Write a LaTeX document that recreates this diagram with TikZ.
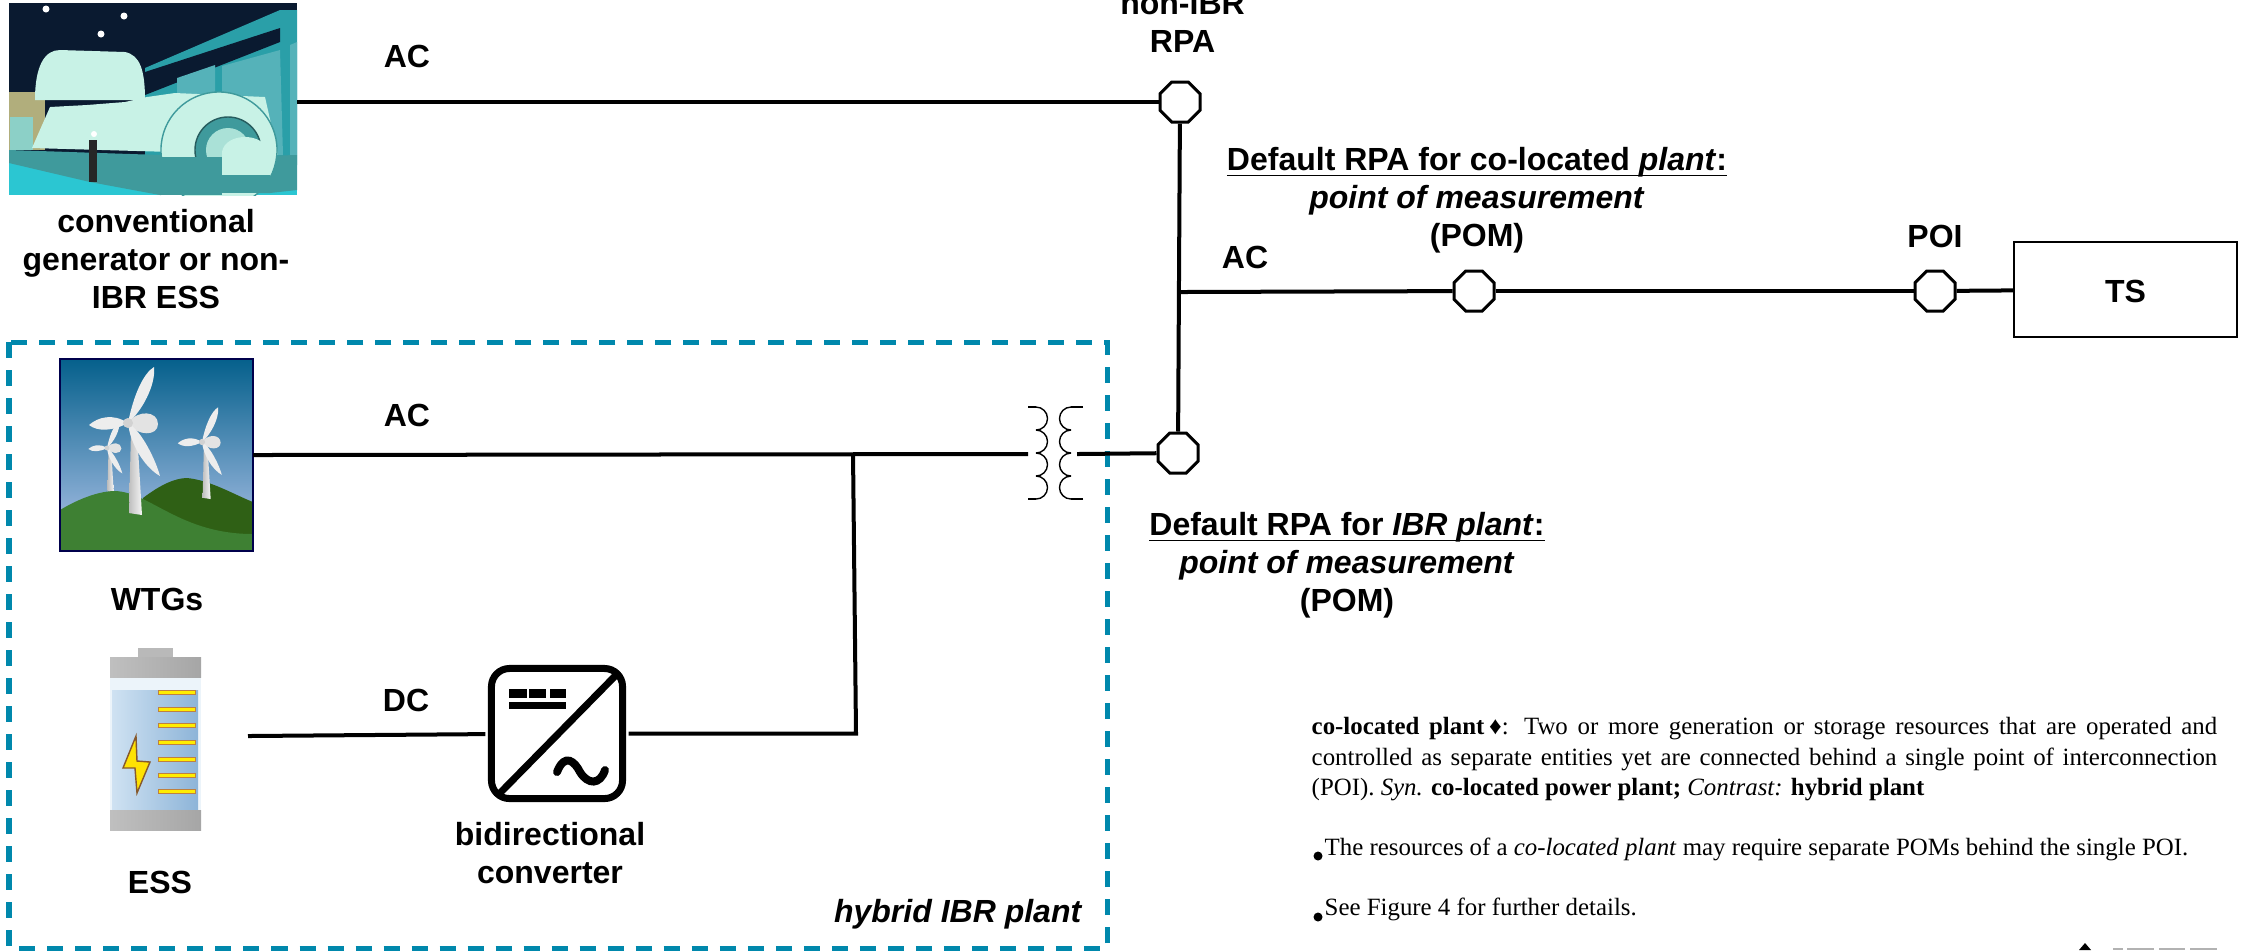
\documentclass[tikz,border=0pt]{standalone}
\usepackage{fontspec}
\setmainfont{Liberation Sans}
\newfontfamily\bodyfont{Liberation Serif}
\usepackage{tikz}
\usetikzlibrary{shapes.geometric}
\definecolor{plantblue}{HTML}{0088AC}
\definecolor{hallwall}{HTML}{2A9FA8}
\definecolor{halldark}{HTML}{0A1A30}
\definecolor{hallbody}{HTML}{C8F2E6}
\definecolor{hallbase}{HTML}{3F9A9C}
\definecolor{hallfloor}{HTML}{2BC6D2}
\definecolor{skytop}{HTML}{05608C}
\definecolor{skymid}{HTML}{5A83D6}
\definecolor{skylow}{HTML}{B4C6EC}
\definecolor{hilla}{HTML}{3E8033}
\definecolor{hillb}{HTML}{2F6015}
\definecolor{cella}{HTML}{CFE2F2}
\definecolor{cellb}{HTML}{8DB4D8}
\newcommand{\ulbl}[1]{\underline{\smash{#1}}}
\tikzset{
  lbl/.style={font=\fontsize{9.1}{10.8}\selectfont\bfseries,align=center,inner sep=0pt},
  body/.style={font=\bodyfont\fontsize{7.07}{8.54}\selectfont,inner sep=0pt},
  bus/.style={black,line width=0.04cm},
  meter/.style={draw,fill=white,regular polygon,regular polygon sides=8,minimum size=0.433cm,inner sep=0pt,line width=0.03cm},
  photo/.style={inner sep=0pt,outer sep=0pt},
  coil/.style={black,line width=0.4pt},
  blade/.style={gray!14},
}
\newcommand{\windmill}[3]{
  \begin{scope}[shift={(#1,#2)},scale=#3]
    \shade[left color=gray!50,right color=gray!8] (3,8) -- (9,8) -- (14,92) -- (1,90) -- cycle;
    \fill[blade] (0,0) .. controls (6,-30) and (16,-50) .. (26,-56) .. controls (28,-38) and (14,-12) .. (0,0);
    \fill[blade] (0,0) .. controls (-15,-10) and (-30,-6) .. (-39,2) .. controls (-30,9) and (-15,8) .. (0,0);
    \fill[gray!22] (0,0) .. controls (10,-14) and (30,-12) .. (30,1) .. controls (30,13) and (10,14) .. (0,0);
    \fill[blade] (0,0) .. controls (14,8) and (28,38) .. (32,53) .. controls (16,44) and (2,20) .. (0,0);
    \fill[gray!35] (0,0) circle (0.05cm);
  \end{scope}
}
\begin{document}
\begin{tikzpicture}[x=0.01cm,y=-0.01cm]
\useasboundingbox (0,0) rectangle (2252,950);
% turbine hall
\begin{scope}
\clip (9,3) rectangle (297,195);
\fill[halldark] (9,3) rectangle (297,195);
\fill[hallwall] (145,68) -- (280,10) -- (297,10) -- (297,165) -- (145,165) -- cycle;
\fill[halldark] (145,72) -- (280,28) -- (280,42) -- (145,95) -- cycle;
\fill[hallwall!80!white] (177,78) -- (215,65) -- (215,100) -- (177,100) -- cycle;
\fill[hallwall!80!white] (222,66) -- (280,50) -- (283,155) -- (222,155) -- cycle;
\fill[hallwall!80!white] (290,45) -- (297,42) -- (297,155) -- (290,155) -- cycle;
\fill[yellow!30!gray] (9,92) rectangle (45,150);
\fill[hallfloor] (9,160) rectangle (297,195);
\fill[hallbody!70!teal] (10,117) rectangle (33,150);
\fill[hallbody] (35,100) .. controls (35,65) and (45,50) .. (60,50) -- (125,52) .. controls (140,55) and (145,70) .. (145,100) -- cycle;
\fill[hallbody] (32,148) -- (50,107) -- (87,105) -- (125,102) -- (147,97) -- (175,93) -- (265,97) -- (278,155) -- cycle;
\fill[hallbase] (9,150) -- (222,157) -- (297,155) -- (297,190) -- (270,193) -- (160,195) -- (90,182) -- (9,163) -- cycle;
\filldraw[hallbody,draw=hallbase] (219,150) circle (0.58cm);
\filldraw[hallbase,draw=hallbase!60!black] (228,150) circle (0.33cm);
\fill[hallbody!85!teal] (228,150) circle (0.22cm);
\fill[hallbase] (160,157) rectangle (222,195);
\fill[hallbody] (222,175) -- (222,152) .. controls (225,132) and (265,132) .. (268,152) -- (268,175) -- cycle;
\fill[hallbase] (222,175) rectangle (270,193);
\fill[black!85] (89,140) rectangle (97,182);
\fill[white] (94,134) circle (0.03cm);
\foreach \lx/\ly in {46/9,124/16,101/34} {
  \fill[white] (\lx,\ly) circle (0.035cm);
}
\end{scope}
% wind farm
\shade[top color=skytop,middle color=skymid,bottom color=skylow] (60,359) rectangle (253,551);
\fill[hillb] (143,498) .. controls (160,485) and (175,478) .. (187,478) .. controls (210,480) and (235,495) .. (253,502) -- (253,540) -- (143,540) -- cycle;
\windmill{107}{448}{0.48}
\windmill{202}{442}{0.62}
\fill[hilla] (60,510) .. controls (80,498) and (100,491) .. (115,491) .. controls (150,492) and (180,534) .. (253,534) -- (253,551) -- (60,551) -- cycle;
\windmill{128}{423}{1}
\draw[black!70!blue,line width=0.4pt] (60,359) rectangle (253,551);
% battery
\fill[gray!55] (138,648) rectangle (173,660);
\fill[cella!40] (110,677) rectangle (201,810);
\shade[left color=cella,right color=cellb] (112,690) rectangle (198,810);
\shade[left color=gray!50,middle color=gray!15,right color=gray!70] (110,657) rectangle (201,677);
\shade[left color=gray!50,middle color=gray!15,right color=gray!70] (110,810) rectangle (201,830);
\foreach \ty in {692,709,725,742,759,775,791} {
  \filldraw[yellow!95!orange,draw=brown,line width=0.2pt] (158,\ty-2) rectangle (195,\ty+2);
}
\filldraw[yellow!85!orange,draw=brown!70!black,line width=0.4pt] (136,736) -- (123,768) -- (135,768) -- (137,793) -- (150,762) -- (137,761) -- cycle;
% nodes
\node[photo,minimum width=2.88cm,minimum height=1.86cm] (gen) at (153,102) {};
\node[photo,minimum width=1.93cm,minimum height=1.92cm] (wtg) at (156.5,455) {};
\node[draw,line width=0.07cm,rounded corners=0.18cm,minimum width=1.31cm,minimum height=1.3cm,outer sep=0.06cm] (conv) at (557,733.5) {};
\node[meter] (rpatop) at (1180,102) {};
\node[meter] (rpabot) at (1178,453) {};
\node[meter] (pom) at (1474,291) {};
\node[meter] (poi) at (1935,291) {};
\node[draw,line width=0.5pt,minimum width=2.23cm,minimum height=0.95cm,lbl] (ts) at (2125.5,289.5) {\raisebox{-3.7pt}[0pt][0pt]{TS}};
\coordinate (esspt) at (248,736);
\coordinate (tap) at (853,453);
\coordinate (tapb) at (856,733.5);
\coordinate (xfmrl) at (1028,454);
\coordinate (xfmrr) at (1077,454);
\coordinate (busac) at (1181,292);
% dashed plant boundary
\draw[plantblue,line width=0.05cm,dash pattern=on 0.16cm off 0.12cm] (9,342) rectangle (1107,948);
% connectors
\draw[bus] (gen.east) -- (rpatop);
\draw[bus] (wtg.east) -- (xfmrl);
\draw[bus] (xfmrr) -- (rpabot);
\draw[bus] (rpatop) -- (rpabot);
\draw[bus] (busac) -- (pom);
\draw[bus] (pom) -- (poi);
\draw[bus] (poi) -- (ts);
\draw[bus] (esspt) -- (conv);
\draw[bus] (conv.east) -- (tapb) -- (tap);
% transformer
\draw[coil] (1028,407) -- (1036,407);
\draw[coil] (1083,407) -- (1071,407);
\draw[coil] (1028,499) -- (1036,499);
\draw[coil] (1083,499) -- (1071,499);
\foreach \k in {0,1,2,3} {
  \draw[coil] (1036,407+23*\k) arc (90:-90:0.115cm);
  \draw[coil] (1071,407+23*\k) arc (90:270:0.115cm);
}
% converter symbol
\draw[line width=0.07cm] (500,793) -- (618,673);
\foreach \bx/\ex in {509/527,529/546,550/566} {
  \fill (\bx,689) rectangle (\ex,698);
}
\fill (509,702) rectangle (566,709);
\draw[line width=0.08cm,line cap=round] (557,772) .. controls (565,752) and (575,762) .. (580,772) .. controls (588,785) and (600,785) .. (605,770);
% labels
\node[lbl] (acgen) at (407,56) {AC};
\node[lbl] (acwtg) at (407,415) {AC};
\node[lbl] (acbus) at (1245,257) {AC};
\node[lbl] (dclbl) at (406,700) {DC};
\node[lbl,anchor=center] (genlbl) at (156,259) {conventional\\generator or non-\\IBR ESS};
\node[lbl] (wtglbl) at (157,599) {WTGs};
\node[lbl] (esslbl) at (160,882) {ESS};
\node[lbl] (convlbl) at (550,853) {bidirectional\\converter};
\node[lbl] (rpalbl) at (1182.5,22) {non-IBR\\RPA};
\node[lbl] (colbl) at (1477,212) {\ulbl{Default RPA for co-located \textit{plant}:}\\\textit{point of measurement}\\(POM)};
\node[lbl] (poilbl) at (1935,236) {POI};
\node[lbl] (ibrlbl) at (1347,577) {\ulbl{Default RPA for \textit{IBR plant}:}\\\textit{point of measurement}\\(POM)};
\node[lbl,anchor=east] (hyblbl) at (1083,914) {\textit{hybrid IBR plant}};
% definition
\node[body,anchor=north west,text width=9.05cm,align=justify] (defn) at (1311,717) {\textbf{co-located plant}$\,$♦: Two or more generation or storage resources that are operated and\linebreak controlled as separate entities yet are connected behind a single point of interconnection\linebreak (POI). \textit{Syn.} \textbf{co-located power plant;} \textit{Contrast:} \textbf{hybrid plant}};
\fill (1318,856) circle (0.045cm);
\node[body,anchor=base west] (notea) at (1324,855) {The resources of a \textit{co-located plant} may require separate POMs behind the single POI.};
\fill (1318,917) circle (0.045cm);
\node[body,anchor=base west] (noteb) at (1324,915) {See Figure 4 for further details.};
% logo edge
\fill (2085,943) -- (2091,950) -- (2079,950) -- cycle;
\foreach \lx/\rx in {2113/2123,2127/2154,2159/2185,2190/2217} {
  \fill[gray!60] (\lx,948) rectangle (\rx,950);
}
\end{tikzpicture}
\end{document}
